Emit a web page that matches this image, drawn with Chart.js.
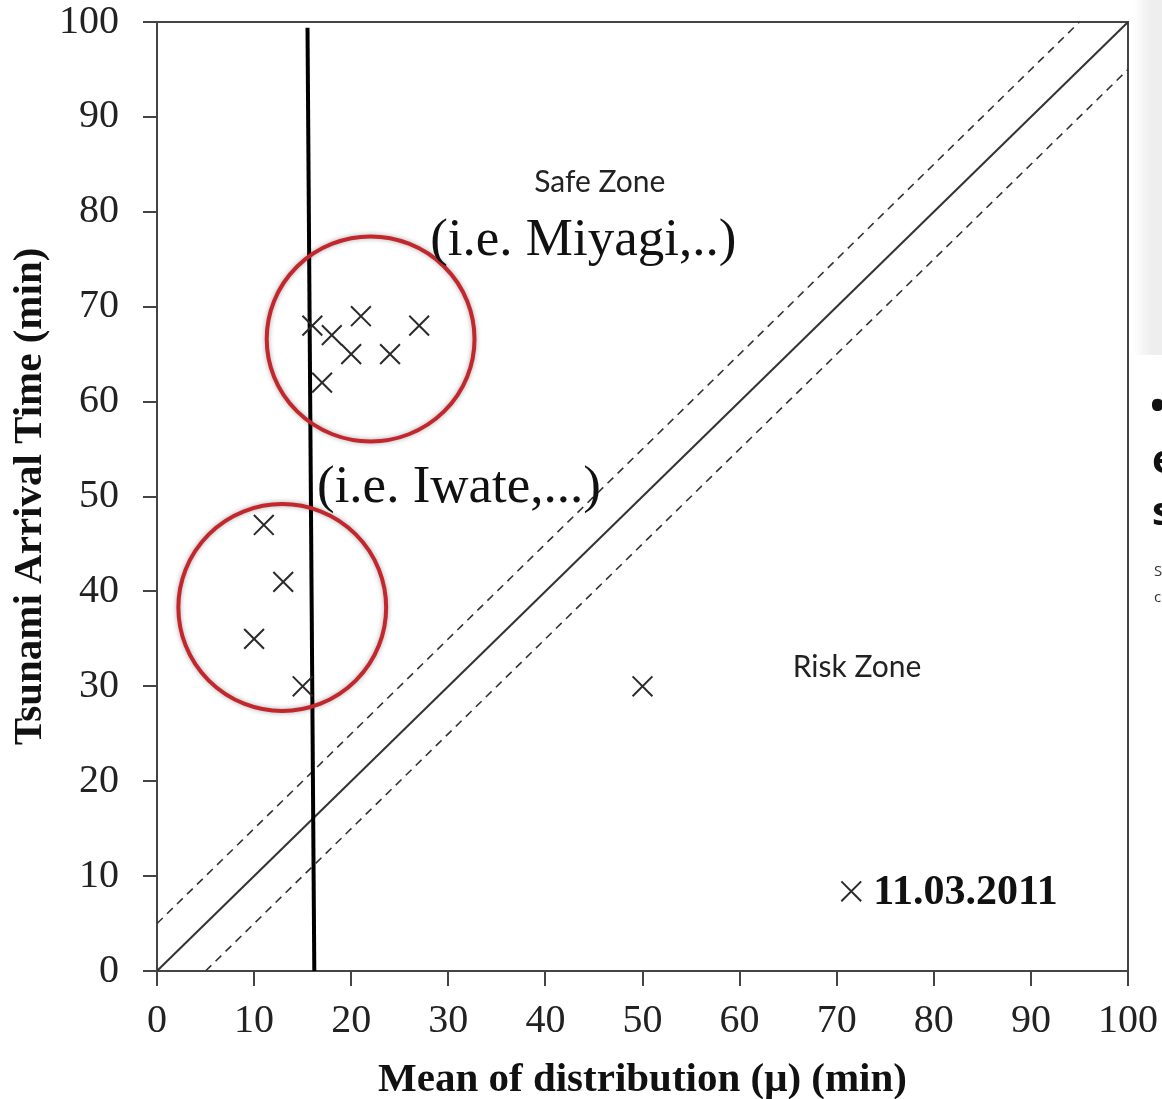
<!DOCTYPE html>
<html>
<head>
<meta charset="utf-8">
<script src="https://cdn.jsdelivr.net/npm/chart.js@4.4.1/dist/chart.umd.min.js"></script>
<style>
  html, body { margin: 0; padding: 0; background: #fff; }
  #wrap { position: relative; width: 1162px; height: 1099px; overflow: hidden; }
  canvas { display: block; }
</style>
</head>
<body>
<div id="wrap"><canvas id="arrival" width="1162" height="1099"></canvas></div>
<script>
// event points: mean of distribution (x) vs tsunami arrival time (y), minutes
const eventMu   = [16, 18, 21, 27, 20, 24, 17, 11, 13, 10, 15, 50];
const eventTime = [68, 67, 69, 68, 65, 65, 62, 47, 41, 35, 30, 30];

// reference lines: y = x and the +/-5 min band
const diagX  = [0, 100];
const diagY  = [0, 100];
const upperX = [0, 95];
const upperY = [5, 100];
const lowerX = [5, 100];
const lowerY = [0, 95];

// hand-drawn threshold line
const threshX = [15.5, 16.2];
const threshY = [99.4, 0];

// highlighted groups (centre and half-size in axis units)
const ringCx = [22.0, 12.9];
const ringCy = [66.6, 38.3];
const ringRx = [10.7, 10.7];
const ringRy = [10.8, 10.9];

// notes written on the plot
const noteText = ['Safe Zone', '(i.e. Miyagi,..)', '(i.e. Iwate,...)', 'Risk Zone'];
const noteX    = [45.6, 43.9, 31.1, 72.1];
const noteY    = [83.1, 76.9, 50.9, 32.0];
const noteKind = ['zone', 'region', 'region', 'zone'];

const legendLabel = '11.03.2011';
const legendX = 71.5, legendY = 8.4;

const tickValues = [0, 10, 20, 30, 40, 50, 60, 70, 80, 90, 100];

const SERIF = '"Liberation Serif", "Times New Roman", serif';
const INK = '#2b2b2b';

function pairs(xs, ys) { return xs.map((x, i) => ({ x, y: ys[i] })); }

// frame, rings, notes and the inset legend
const overlay = {
  id: 'overlay',
  beforeDatasetsDraw(chart) {
    const { ctx, chartArea: a } = chart;
    ctx.save();
    ctx.strokeStyle = '#444';
    ctx.lineWidth = 2;
    ctx.beginPath();
    ctx.moveTo(a.left, a.top);
    ctx.lineTo(a.right, a.top);
    ctx.lineTo(a.right, a.bottom);
    ctx.stroke();
    ctx.restore();
  },
  afterDatasetsDraw(chart) {
    const { ctx, scales: { x, y } } = chart;
    ctx.save();
    // red rings
    ctx.strokeStyle = '#c1272d';
    ctx.lineWidth = 4;
    ctx.shadowColor = 'rgba(0,0,0,0.35)';
    ctx.shadowBlur = 5;
    ringCx.forEach((cx, i) => {
      const px = x.getPixelForValue(cx);
      const py = y.getPixelForValue(ringCy[i]);
      const rx = x.getPixelForValue(cx + ringRx[i]) - px;
      const ry = py - y.getPixelForValue(ringCy[i] + ringRy[i]);
      ctx.beginPath();
      ctx.ellipse(px, py, rx, ry, 0, 0, Math.PI * 2);
      ctx.stroke();
    });
    ctx.shadowBlur = 0;
    ctx.shadowColor = 'transparent';

    // notes
    ctx.textAlign = 'center';
    ctx.textBaseline = 'middle';
    noteText.forEach((t, i) => {
      if (noteKind[i] === 'zone') {
        ctx.font = '30px Lato, "Liberation Sans", sans-serif';
        ctx.fillStyle = '#222';
      } else {
        ctx.font = '53px ' + SERIF;
        ctx.fillStyle = '#111';
      }
      ctx.fillText(t, x.getPixelForValue(noteX[i]), y.getPixelForValue(noteY[i]));
    });

    // legend entry inside the plot
    const lx = x.getPixelForValue(legendX);
    const ly = y.getPixelForValue(legendY);
    ctx.strokeStyle = INK;
    ctx.lineWidth = 2;
    Chart.helpers.drawPoint(ctx, { pointStyle: 'crossRot', radius: 14, borderWidth: 2 }, lx, ly);
    ctx.font = 'bold 42px ' + SERIF;
    ctx.fillStyle = '#111';
    ctx.textAlign = 'left';
    ctx.fillText(legendLabel, lx + 22, ly + 2);
    ctx.restore();
  }
};

// bits of the neighbouring slide at the right edge
const edge = {
  id: 'edge',
  beforeDraw(chart) {
    const { ctx } = chart;
    ctx.save();
    const g = ctx.createLinearGradient(1134, 0, 1152, 0);
    g.addColorStop(0, 'rgba(235,235,235,0)');
    g.addColorStop(1, 'rgba(238,238,238,1)');
    ctx.fillStyle = g;
    ctx.fillRect(1134, 0, 28, 355);
    ctx.fillStyle = '#111';
    ctx.font = 'bold 40px "Open Sans", sans-serif';
    ctx.textBaseline = 'middle';
    ctx.fillText('•', 1150, 408);
    ctx.fillText('e', 1152, 462);
    ctx.fillText('s', 1152, 514);
    ctx.font = '15px "Open Sans", sans-serif';
    ctx.fillStyle = '#333';
    ctx.fillText('S', 1154, 572);
    ctx.fillText('c', 1154, 598);
    ctx.restore();
  }
};

new Chart(document.getElementById('arrival'), {
  type: 'scatter',
  data: {
    datasets: [
      {
        label: legendLabel,
        data: pairs(eventMu, eventTime),
        pointStyle: 'crossRot',
        pointRadius: 14,
        pointHoverRadius: 14,
        borderColor: INK,
        borderWidth: 2,
        order: 0,
      },
      {
        data: pairs(diagX, diagY), showLine: true, pointRadius: 0,
        borderColor: '#333', borderWidth: 2, order: 2,
      },
      {
        data: pairs(upperX, upperY), showLine: true, pointRadius: 0,
        borderColor: '#333', borderWidth: 1.6, borderDash: [8, 6], order: 2,
      },
      {
        data: pairs(lowerX, lowerY), showLine: true, pointRadius: 0,
        borderColor: '#333', borderWidth: 1.6, borderDash: [8, 6], order: 2,
      },
      {
        data: pairs(threshX, threshY), showLine: true, pointRadius: 0,
        borderColor: '#000', borderWidth: 4, order: 1,
      },
    ],
  },
  options: {
    responsive: false,
    animation: false,
    devicePixelRatio: 1,
    layout: { padding: 0 },
    plugins: { legend: { display: false }, tooltip: { enabled: false } },
    scales: {
      x: {
        type: 'linear', min: 0, max: 100,
        afterBuildTicks: s => { s.ticks = tickValues.map(v => ({ value: v })); },
        afterFit: s => { s.height = 128; },
        ticks: { font: { family: SERIF, size: 40 }, color: '#222', padding: 4, maxRotation: 0 },
        // long tick slot keeps the label gap, only the first 14px is stroked
        grid: {
          drawOnChartArea: false, drawTicks: true, tickLength: 22,
          color: '#444', lineWidth: 2, tickBorderDash: [14, 100],
        },
        border: { color: '#444', width: 2 },
        title: {
          display: true, text: 'Mean of distribution (μ) (min)',
          font: { family: SERIF, size: 41, weight: 'bold' }, color: '#111',
          padding: { top: 0, bottom: -6 },
        },
      },
      y: {
        type: 'linear', min: 0, max: 100,
        afterBuildTicks: s => { s.ticks = tickValues.map(v => ({ value: v })); },
        afterFit: s => { s.width = 157; },
        ticks: { font: { family: SERIF, size: 40, lineHeight: 1.1 }, color: '#222', padding: 0 },
        grid: {
          drawOnChartArea: false, drawTicks: true, tickLength: 38,
          color: '#444', lineWidth: 2, tickBorderDash: [0, 24, 14, 0],
        },
        border: { color: '#444', width: 2 },
        title: {
          display: true, text: 'Tsunami Arrival Time (min)',
          font: { family: SERIF, size: 41, weight: 'bold' }, color: '#111',
          padding: { top: 6, bottom: 0 },
        },
      },
    },
  },
  plugins: [overlay, edge],
});
</script>
</body>
</html>
